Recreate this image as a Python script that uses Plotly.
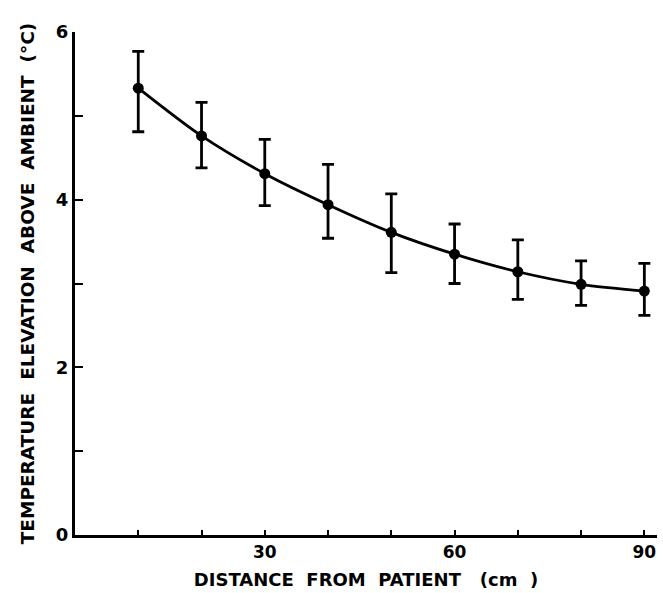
import plotly.graph_objects as go

distance_cm = [10, 20, 30, 40, 50, 60, 70, 80, 90]
temp_elev = [5.33, 4.76, 4.31, 3.94, 3.61, 3.35, 3.14, 2.99, 2.91]
err_upper = [0.44, 0.40, 0.41, 0.48, 0.46, 0.36, 0.38, 0.28, 0.33]
err_lower = [0.52, 0.38, 0.38, 0.40, 0.48, 0.35, 0.33, 0.25, 0.29]

x_tickvals = [10, 20, 30, 40, 50, 60, 70, 80, 90]
x_ticktext = ["", "", "30", "", "", "60", "", "", "90"]
y_tickvals = [0, 1, 2, 3, 4, 5, 6]
y_ticktext = ["0", "", "2", "", "4", "", "6"]

font_family = "DejaVu Sans"

fig = go.Figure()
fig.add_trace(go.Scatter(
    x=distance_cm, y=temp_elev,
    mode="lines+markers",
    line=dict(color="black", width=2.8, shape="spline", smoothing=0.8),
    marker=dict(color="black", size=11),
    error_y=dict(type="data", symmetric=False, array=err_upper, arrayminus=err_lower,
                 color="black", thickness=2.8, width=6),
    showlegend=False,
))

fig.update_layout(
    width=663, height=593,
    margin=dict(l=75, r=6, t=32, b=58),
    paper_bgcolor="white", plot_bgcolor="white",
    font=dict(family=font_family, color="black", weight="bold"),
    xaxis=dict(
        range=[0, 92], showgrid=False, zeroline=False,
        showline=True, linecolor="black", linewidth=3,
        tickmode="array", tickvals=x_tickvals, ticktext=x_ticktext,
        ticks="inside", ticklen=5, tickwidth=2, tickcolor="black",
        tickfont=dict(size=17, weight="bold"),
        title=dict(text="DISTANCE  FROM  PATIENT   (cm  )", font=dict(size=18, weight="bold"), standoff=12),
    ),
    yaxis=dict(
        range=[0, 6], showgrid=False, zeroline=False,
        showline=True, linecolor="black", linewidth=3,
        tickmode="array", tickvals=y_tickvals, ticktext=y_ticktext,
        ticks="inside", ticklen=8, tickwidth=2, tickcolor="black",
        tickfont=dict(size=18, weight="bold"),
        title=dict(text="TEMPERATURE  ELEVATION  ABOVE  AMBIENT  (°C)", font=dict(size=18.5, weight="bold"), standoff=17),
    ),
)

fig.write_html("out.html", config={"displayModeBar": False},
               post_script="document.body.style.margin='0';")
